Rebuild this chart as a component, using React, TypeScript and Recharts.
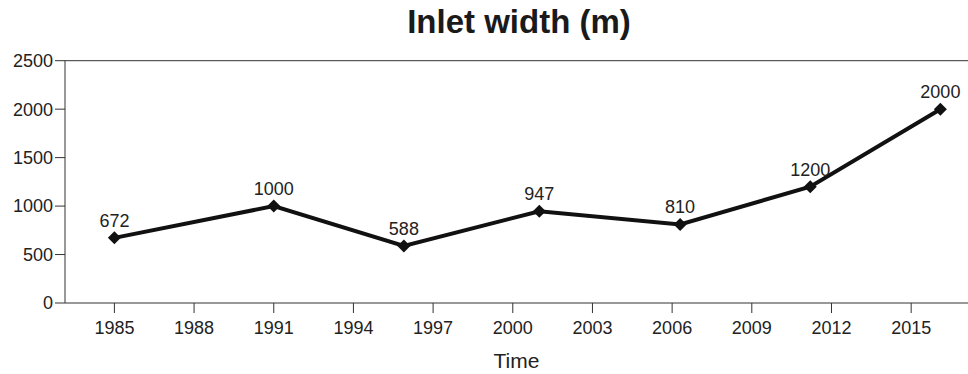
import { LineChart, Line, XAxis, YAxis, LabelList, ReferenceLine } from 'recharts';

const years = [1985, 1991, 1995.9, 2001, 2006.3, 2011.2, 2016.1];
const widths = [672, 1000, 588, 947, 810, 1200, 2000];
const xTicks = [1985, 1988, 1991, 1994, 1997, 2000, 2003, 2006, 2009, 2012, 2015];
const yTicks = [0, 500, 1000, 1500, 2000, 2500];

const data = years.map((year, i) => ({ year, width: widths[i] }));

const font = 'Liberation Sans, Arial, sans-serif';
const textColor = '#222';

function Diamond(props: any) {
  const { cx, cy } = props;
  if (cx == null || cy == null) return null;
  const r = 6.5;
  return (
    <polygon
      points={`${cx},${cy - r} ${cx + r},${cy} ${cx},${cy + r} ${cx - r},${cy}`}
      fill="#111"
    />
  );
}

export default function App() {
  return (
    <div style={{ position: 'absolute', left: 0, top: 0, width: 968, height: 374, background: '#fff' }}>
      <div
        style={{
          position: 'absolute',
          left: 0,
          width: 1038,
          top: 3,
          textAlign: 'center',
          fontFamily: font,
          fontWeight: 'bold',
          fontSize: 33,
          color: '#1a1a1a',
        }}
      >
        Inlet width (m)
      </div>
      <LineChart
        width={968}
        height={374}
        data={data}
        margin={{ top: 60.7, right: 0, bottom: 0, left: 0 }}
        style={{ position: 'absolute', left: 0, top: 0 }}
      >
        <XAxis
          dataKey="year"
          type="number"
          domain={[1983.14, 2017.14]}
          ticks={xTicks}
          allowDataOverflow
          height={71}
          tickSize={10}
          tickMargin={8}
          stroke="#333"
          tick={{ fill: textColor, fontSize: 18, fontFamily: font }}
          label={{ value: 'Time', position: 'insideBottom', offset: 6, fill: textColor, fontSize: 21, fontFamily: font }}
        />
        <YAxis
          type="number"
          domain={[0, 2500]}
          ticks={yTicks}
          width={65}
          tickSize={10}
          tickMargin={2}
          stroke="#333"
          tick={{ fill: textColor, fontSize: 18, fontFamily: font }}
        />
        <ReferenceLine y={2500} stroke="#333" strokeWidth={1} />
        <Line
          dataKey="width"
          stroke="#111"
          strokeWidth={4}
          dot={<Diamond />}
          activeDot={false}
          isAnimationActive={false}
        >
          <LabelList dataKey="width" position="top" offset={11} fill={textColor} fontSize={18} fontFamily={font} />
        </Line>
      </LineChart>
    </div>
  );
}
